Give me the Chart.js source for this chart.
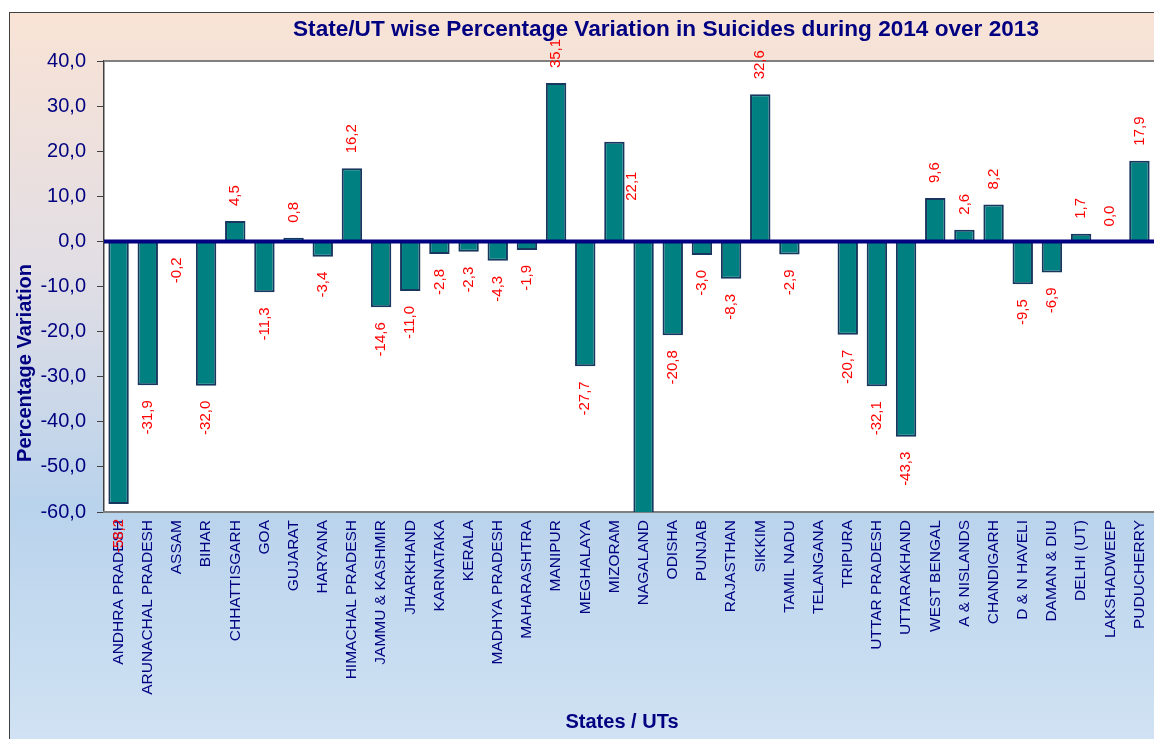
<!DOCTYPE html>
<html>
<head>
<meta charset="utf-8">
<script src="https://cdn.jsdelivr.net/npm/chart.js@4.4.1/dist/chart.umd.min.js"></script>
<style>
  html, body { margin: 0; padding: 0; background: #fff; }
  canvas { display: block; }
</style>
</head>
<body>
<canvas id="suicideChart" width="1154" height="739"></canvas>
<script>
const states = [
    'ANDHRA PRADESH', 'ARUNACHAL PRADESH', 'ASSAM', 'BIHAR', 'CHHATTISGARH', 'GOA',
    'GUJARAT', 'HARYANA', 'HIMACHAL PRADESH', 'JAMMU & KASHMIR', 'JHARKHAND', 'KARNATAKA',
    'KERALA', 'MADHYA PRADESH', 'MAHARASHTRA', 'MANIPUR', 'MEGHALAYA', 'MIZORAM',
    'NAGALAND', 'ODISHA', 'PUNJAB', 'RAJASTHAN', 'SIKKIM', 'TAMIL NADU',
    'TELANGANA', 'TRIPURA', 'UTTAR PRADESH', 'UTTARAKHAND', 'WEST BENGAL', 'A & NISLANDS',
    'CHANDIGARH', 'D & N HAVELI', 'DAMAN & DIU', 'DELHI (UT)', 'LAKSHADWEEP', 'PUDUCHERRY'
];

// Nagaland runs off the bottom of the axis, its value is an estimate
const variation = [
    -58.2, -31.9, -0.2, -32.0, 4.5, -11.3,
    0.8, -3.4, 16.2, -14.6, -11.0, -2.8,
    -2.3, -4.3, -1.9, 35.1, -27.7, 22.1,
    -64.0, -20.8, -3.0, -8.3, 32.6, -2.9,
    null, -20.7, -32.1, -43.3, 9.6, 2.6,
    8.2, -9.5, -6.9, 1.7, 0.0, 17.9
];

const yTicks = [-60, -50, -40, -30, -20, -10, 0, 10, 20, 30, 40];

const NAVY = '#000080';
const FONT = '"Liberation Sans", Arial, sans-serif';
const fmt = v => v.toFixed(1).replace('.', ',');

// label placed by hand in the original
const labelNudge = { 'MIZORAM': { dx: 17, dy: 74 } };

const framePlugin = {
    id: 'frame',
    beforeDraw(chart) {
        const { ctx, chartArea: a, width, height } = chart;
        ctx.save();
        const g = ctx.createLinearGradient(0, 12, 0, height);
        g.addColorStop(0, '#f9e3d5');
        g.addColorStop(0.35, '#e2dee4');
        g.addColorStop(0.68, '#b9d3ec');
        g.addColorStop(1, '#d0e2f3');
        ctx.fillStyle = g;
        ctx.fillRect(9, 12, width - 9, height - 12);
        ctx.strokeStyle = '#404040';
        ctx.lineWidth = 1;
        ctx.strokeRect(9.5, 12.5, width + 10, height + 10);

        ctx.fillStyle = '#ffffff';
        ctx.fillRect(a.left, a.top, a.right - a.left, a.bottom - a.top);

        ctx.fillStyle = NAVY;
        ctx.textAlign = 'center';
        ctx.textBaseline = 'middle';
        ctx.font = 'bold 22.6px ' + FONT;
        ctx.fillText('State/UT wise Percentage Variation in Suicides during 2014 over 2013', 666, 30);
        ctx.font = 'bold 20px ' + FONT;
        ctx.fillText('States / UTs', 622, 722);
        ctx.translate(25, 363);
        ctx.rotate(-Math.PI / 2);
        ctx.fillText('Percentage Variation', 0, 0);
        ctx.restore();
    },
    afterDatasetsDraw(chart) {
        const { ctx, chartArea: a, scales: { y } } = chart;
        ctx.save();
        ctx.strokeStyle = '#808080';
        ctx.lineWidth = 2;
        ctx.beginPath();
        ctx.moveTo(a.left, a.top);
        ctx.lineTo(a.right, a.top);
        ctx.stroke();
        const y0 = y.getPixelForValue(0);
        ctx.strokeStyle = NAVY;
        ctx.lineWidth = 4;
        ctx.beginPath();
        ctx.moveTo(a.left, y0);
        ctx.lineTo(a.right, y0);
        ctx.stroke();
        ctx.restore();
    },
    afterDraw(chart) {
        const { ctx, scales: { y } } = chart;
        const meta = chart.getDatasetMeta(0);
        ctx.save();
        ctx.fillStyle = '#ff0000';
        ctx.font = '15px ' + FONT;
        ctx.textBaseline = 'middle';
        meta.data.forEach((bar, i) => {
            const v = variation[i];
            if (v === null || v < y.min) return;
            const end = y.getPixelForValue(v);
            const n = labelNudge[states[i]] || { dx: 0, dy: 0 };
            ctx.save();
            if (v >= 0) {
                ctx.translate(bar.x + n.dx, end - 15 + n.dy);
                ctx.textAlign = 'left';
            } else {
                ctx.translate(bar.x + n.dx, end + 15 + n.dy);
                ctx.textAlign = 'right';
            }
            ctx.rotate(-Math.PI / 2);
            ctx.fillText(fmt(v), 0, 0);
            ctx.restore();
        });
        ctx.restore();
    }
};

new Chart(document.getElementById('suicideChart'), {
    type: 'bar',
    data: {
        labels: states,
        datasets: [{
            data: variation,
            backgroundColor: '#008080',
            borderColor: '#17375e',
            borderWidth: 2,
            categoryPercentage: 1,
            barPercentage: 0.7
        }]
    },
    options: {
        responsive: false,
        animation: false,
        devicePixelRatio: 1,
        layout: { padding: { top: 61, left: 0, right: 0, bottom: 0 } },
        scales: {
            y: {
                min: -60,
                max: 40,
                afterFit: s => { s.width = 104; s.paddingTop = 0; s.paddingBottom = 0; },
                afterBuildTicks: s => { s.ticks = yTicks.map(v => ({ value: v })); },
                grid: { drawOnChartArea: false, tickLength: 7, tickColor: '#404040', tickWidth: 1 },
                border: { color: '#404040', width: 1.5 },
                ticks: {
                    color: NAVY,
                    padding: 11,
                    font: { family: FONT, size: 20 },
                    callback: v => fmt(v)
                }
            },
            x: {
                afterFit: s => { s.height = 227; s.paddingLeft = 0; s.paddingRight = 0; },
                grid: { display: false, drawTicks: false },
                border: { color: '#808080', width: 2 },
                ticks: {
                    color: NAVY,
                    autoSkip: false,
                    maxRotation: 90,
                    minRotation: 90,
                    padding: 8,
                    font: { family: FONT, size: 15.5 }
                }
            }
        },
        plugins: {
            legend: { display: false },
            title: { display: false },
            tooltip: { enabled: false }
        }
    },
    plugins: [framePlugin]
});
</script>
</body>
</html>
